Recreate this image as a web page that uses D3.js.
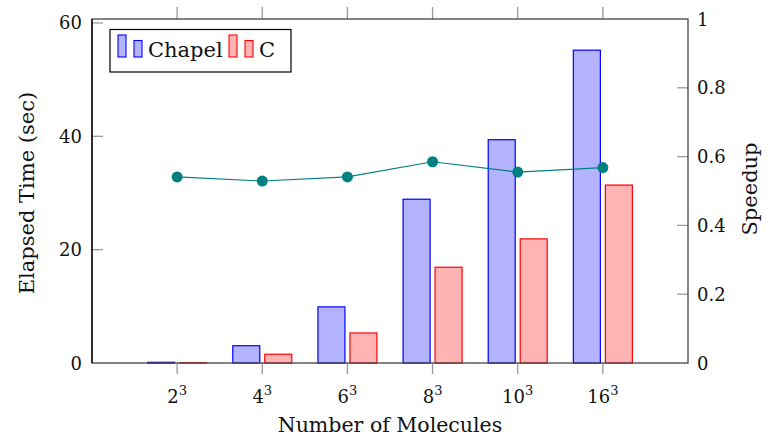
<!DOCTYPE html>
<html>
<head>
<meta charset="utf-8">
<script src="https://cdn.jsdelivr.net/npm/d3@7"></script>
<style>
    body { margin: 0; background: #fff; }
</style>
</head>
<body>
<script>
var bases = ["2", "4", "6", "8", "10", "16"];
var chapelTimes = [0.12, 3.05, 9.9, 28.9, 39.4, 55.2];
var cTimes = [0.05, 1.55, 5.3, 16.9, 21.9, 31.4];
var speedups = [0.541, 0.529, 0.541, 0.585, 0.555, 0.568];
var timeTicks = [0, 20, 40, 60];
var speedupTicks = [0, 0.2, 0.4, 0.6, 0.8, 1];

var width = 766,
    height = 438;

var plot = {
    left: 92,
    right: 688,
    top: 19,
    bottom: 363
};

var svg = d3.select("body").append("svg")
    .attr("width", width)
    .attr("height", height)
    .attr("font-family", "DejaVu Serif")
    .style("font-family", "'DejaVu Serif', serif")
    .style("fill", "#111");

var x = d3.scaleLinear()
    .domain([0, bases.length + 1])
    .range([plot.left, plot.right]);

var yTime = d3.scaleLinear()
    .domain([0, 60.7])
    .range([plot.bottom, plot.top]);

var ySpeed = d3.scaleLinear()
    .domain([0, 1])
    .range([plot.bottom, plot.top]);

var barWidth = 27,
    barOffset = 16;

// bars
var groups = svg.append("g").selectAll(".group")
    .data(bases)
    .enter().append("g")
    .attr("class", "group");

groups.append("rect")
    .attr("x", function(d, i) {
        return x(i + 1) - barOffset - barWidth / 2;
    })
    .attr("y", function(d, i) {
        return yTime(chapelTimes[i]);
    })
    .attr("width", barWidth)
    .attr("height", function(d, i) {
        return yTime(0) - yTime(chapelTimes[i]);
    })
    .style("fill", "#b3b3ff")
    .style("stroke", "#0000ff")
    .style("stroke-width", 1.2);

groups.append("rect")
    .attr("x", function(d, i) {
        return x(i + 1) + barOffset - barWidth / 2;
    })
    .attr("y", function(d, i) {
        return yTime(cTimes[i]);
    })
    .attr("width", barWidth)
    .attr("height", function(d, i) {
        return yTime(0) - yTime(cTimes[i]);
    })
    .style("fill", "#ffb3b3")
    .style("stroke", "#ff0000")
    .style("stroke-width", 1.2);

// speedup line
var line = d3.line()
    .x(function(d, i) { return x(i + 1); })
    .y(function(d) { return ySpeed(d); });

svg.append("path")
    .datum(speedups)
    .attr("d", line)
    .style("fill", "none")
    .style("stroke", "#008080")
    .style("stroke-width", 1.1);

svg.append("g").selectAll("circle")
    .data(speedups)
    .enter().append("circle")
    .attr("cx", function(d, i) { return x(i + 1); })
    .attr("cy", function(d) { return ySpeed(d); })
    .attr("r", 5.5)
    .style("fill", "#008080");

// ticks
var tickColor = "#9a9a9a";
var ticks = svg.append("g")
    .style("stroke", tickColor)
    .style("stroke-width", 1.3);

bases.forEach(function(d, i) {
    ticks.append("line")
        .attr("x1", x(i + 1)).attr("x2", x(i + 1))
        .attr("y1", plot.bottom).attr("y2", plot.bottom + 11);
    ticks.append("line")
        .attr("x1", x(i + 1)).attr("x2", x(i + 1))
        .attr("y1", plot.top).attr("y2", plot.top - 12);
});

timeTicks.forEach(function(d) {
    if (d === 0) return;
    ticks.append("line")
        .attr("x1", plot.left).attr("x2", plot.left + 11)
        .attr("y1", yTime(d)).attr("y2", yTime(d));
});

speedupTicks.forEach(function(d) {
    if (d === 0 || d === 1) return;
    ticks.append("line")
        .attr("x1", plot.right - 11).attr("x2", plot.right)
        .attr("y1", ySpeed(d)).attr("y2", ySpeed(d));
});

// frame
svg.append("rect")
    .attr("x", plot.left)
    .attr("y", plot.top)
    .attr("width", plot.right - plot.left)
    .attr("height", plot.bottom - plot.top)
    .style("fill", "none")
    .style("stroke", "#444")
    .style("stroke-width", 1.3);

svg.append("line")
    .attr("x1", plot.left).attr("x2", plot.left)
    .attr("y1", plot.top).attr("y2", plot.bottom)
    .style("stroke", "#000")
    .style("stroke-width", 1.3);

// tick labels
var xLabels = svg.append("g").selectAll("text")
    .data(bases)
    .enter().append("text")
    .attr("x", function(d, i) { return x(i + 1); })
    .attr("y", 403)
    .attr("text-anchor", "middle")
    .style("font-size", "18px");

xLabels.append("tspan")
    .text(function(d) { return d; });
xLabels.append("tspan")
    .attr("dy", -8)
    .style("font-size", "13px")
    .text("3");

svg.append("g").selectAll("text")
    .data(timeTicks)
    .enter().append("text")
    .attr("x", 82)
    .attr("y", function(d) { return yTime(d) + 6.5; })
    .attr("text-anchor", "end")
    .style("font-size", "18px")
    .text(function(d) { return d; });

svg.append("g").selectAll("text")
    .data(speedupTicks)
    .enter().append("text")
    .attr("x", 697)
    .attr("y", function(d) { return ySpeed(d) + 6.5; })
    .attr("text-anchor", "start")
    .style("font-size", "18px")
    .text(function(d) { return d; });

// axis titles
svg.append("text")
    .attr("x", 390)
    .attr("y", 432)
    .attr("text-anchor", "middle")
    .style("font-size", "20.5px")
    .text("Number of Molecules");

svg.append("text")
    .attr("transform", "translate(34,193) rotate(-90)")
    .attr("text-anchor", "middle")
    .style("font-size", "21px")
    .text("Elapsed Time (sec)");

svg.append("text")
    .attr("transform", "translate(757,189) rotate(-90)")
    .attr("text-anchor", "middle")
    .style("font-size", "21px")
    .text("Speedup");

// legend
var legendItems = [
    { name: "Chapel", fill: "#b3b3ff", stroke: "#0000ff", x: 118 },
    { name: "C", fill: "#ffb3b3", stroke: "#ff0000", x: 229 }
];

var legend = svg.append("g");

legend.append("rect")
    .attr("x", 110)
    .attr("y", 29.5)
    .attr("width", 181)
    .attr("height", 42.5)
    .style("fill", "#fff")
    .style("stroke", "#000")
    .style("stroke-width", 1.2);

var item = legend.selectAll(".item")
    .data(legendItems)
    .enter().append("g")
    .attr("class", "item");

item.append("rect")
    .attr("x", function(d) { return d.x; })
    .attr("y", 35)
    .attr("width", 8)
    .attr("height", 22)
    .style("fill", function(d) { return d.fill; })
    .style("stroke", function(d) { return d.stroke; })
    .style("stroke-width", 1.1);

item.append("rect")
    .attr("x", function(d) { return d.x + 16; })
    .attr("y", 40.5)
    .attr("width", 8)
    .attr("height", 16.5)
    .style("fill", function(d) { return d.fill; })
    .style("stroke", function(d) { return d.stroke; })
    .style("stroke-width", 1.1);

item.append("text")
    .attr("x", function(d) { return d.x + 30; })
    .attr("y", 57)
    .style("font-size", "21px")
    .text(function(d) { return d.name; });
</script>
</body>
</html>
